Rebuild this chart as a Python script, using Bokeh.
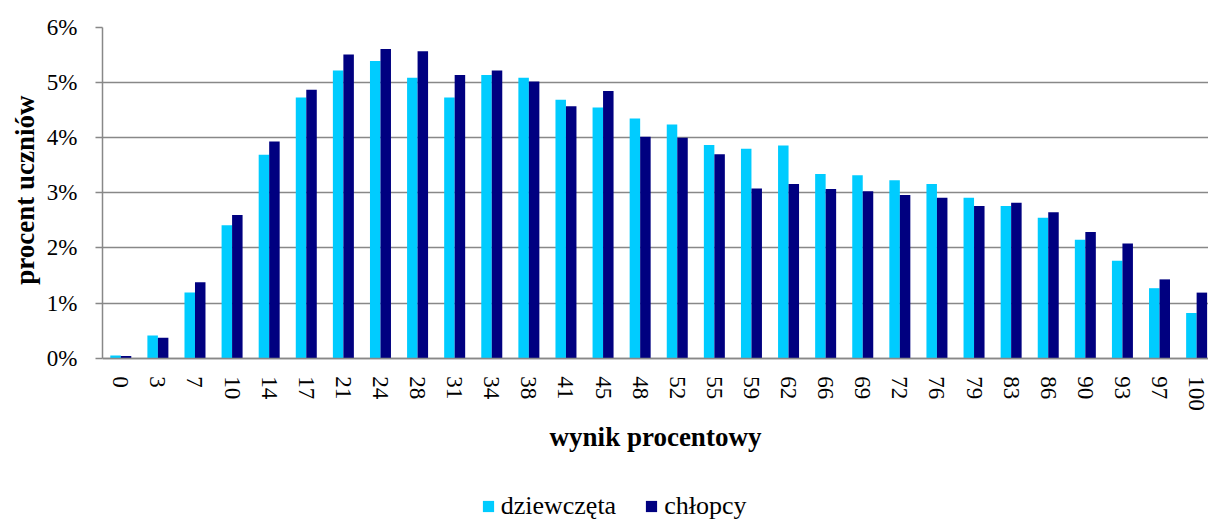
from bokeh.plotting import figure
from bokeh.models import Range1d, FixedTicker, ColumnDataSource, Legend, LegendItem, Title
from bokeh.transform import dodge
from bokeh.embed import file_html
from bokeh.resources import INLINE

categories = ["0", "3", "7", "10", "14", "17", "21", "24", "28", "31", "34", "38", "41", "45", "48",
              "52", "55", "59", "62", "66", "69", "72", "76", "79", "83", "86", "90", "93", "97", "100"]
girls = [0.05, 0.41, 1.19, 2.41, 3.69, 4.73, 5.22, 5.39, 5.09, 4.73, 5.14, 5.09, 4.69, 4.55, 4.35,
         4.24, 3.87, 3.80, 3.86, 3.34, 3.32, 3.23, 3.16, 2.91, 2.76, 2.55, 2.15, 1.77, 1.27, 0.82]
boys = [0.04, 0.37, 1.38, 2.60, 3.93, 4.87, 5.51, 5.61, 5.57, 5.14, 5.22, 5.02, 4.57, 4.85, 4.02,
        4.00, 3.70, 3.08, 3.16, 3.07, 3.03, 2.96, 2.91, 2.76, 2.82, 2.65, 2.29, 2.08, 1.43, 1.19]
y_ticks = [0, 1, 2, 3, 4, 5, 6]
series_names = ["dziewczęta", "chłopcy"]
colors = ["#00CCFF", "#000080"]
y_title = "procent uczniów"
x_title = "wynik procentowy"

src = ColumnDataSource(dict(x=list(range(len(categories))), girls=girls, boys=boys))

# the frame reaches the bottom of the picture; the x axis is pinned at y = 0
p = figure(width=1208, height=521, x_range=Range1d(-0.493, 29.32), y_range=Range1d(-2.963, 6),
           output_backend="svg", toolbar_location=None,
           min_border_left=102, min_border_right=0, min_border_top=27, min_border_bottom=0)

bw = 0.283
r1 = p.vbar(x=dodge("x", -bw / 2, range=p.x_range), top="girls", width=bw, source=src,
            fill_color=colors[0], line_color=None)
r2 = p.vbar(x=dodge("x", bw / 2, range=p.x_range), top="boys", width=bw, source=src,
            fill_color=colors[1], line_color=None)

grey = "#888888"
p.outline_line_color = None
p.xgrid.grid_line_color = None
p.ygrid.grid_line_color = grey
p.ygrid.grid_line_width = 1.5
p.ygrid.ticker = FixedTicker(ticks=y_ticks)

# y axis
p.yaxis.ticker = FixedTicker(ticks=y_ticks)
p.yaxis.bounds = (0, 6)
p.yaxis.major_label_overrides = {t: f"{t}%" for t in y_ticks}
p.yaxis.axis_line_color = grey
p.yaxis.axis_line_width = 1.5
p.yaxis.major_tick_line_color = grey
p.yaxis.major_tick_line_width = 1.5
p.yaxis.major_tick_out = 7
p.yaxis.major_tick_in = 0
p.yaxis.minor_tick_line_color = None
p.yaxis.major_label_standoff = 18

# y axis title, placed over the 0-6% span rather than the whole frame
p.add_layout(Title(text=y_title, align="right", offset=68, standoff=8,
                   text_font="Liberation Serif", text_font_size="27px",
                   text_font_style="bold", text_color="#000000"), "left")

# x axis
p.xaxis.fixed_location = 0
p.xaxis.ticker = FixedTicker(ticks=list(range(len(categories))))
p.xaxis.major_label_overrides = {i: c for i, c in enumerate(categories)}
p.xaxis.major_label_orientation = "vertical"
p.xaxis.axis_line_color = grey
p.xaxis.axis_line_width = 1.5
p.xaxis.major_tick_line_color = None
p.xaxis.major_tick_out = 0
p.xaxis.major_tick_in = 0
p.xaxis.minor_tick_line_color = None
p.xaxis.major_label_standoff = 18
p.xaxis.axis_label = x_title
p.xaxis.axis_label_standoff = 8

for ax in (p.xaxis[0], p.yaxis[0]):
    ax.major_label_text_font = "Liberation Serif"
    ax.major_label_text_font_size = "23px"
    ax.major_label_text_color = "#000000"
    ax.axis_label_text_font = "Liberation Serif"
    ax.axis_label_text_font_size = "27px"
    ax.axis_label_text_font_style = "bold"
    ax.axis_label_text_color = "#000000"

legend = Legend(items=[LegendItem(label=series_names[0], renderers=[r1]),
                       LegendItem(label=series_names[1], renderers=[r2])],
                location=(378.7, 0), orientation="horizontal",
                glyph_width=14, glyph_height=14, label_standoff=6, spacing=28,
                padding=0, margin=0, border_line_color=None, background_fill_alpha=0,
                label_text_font="Liberation Serif", label_text_font_size="26px",
                label_text_color="#000000")
p.add_layout(legend)

open("out.html", "w").write(file_html(p, INLINE))
